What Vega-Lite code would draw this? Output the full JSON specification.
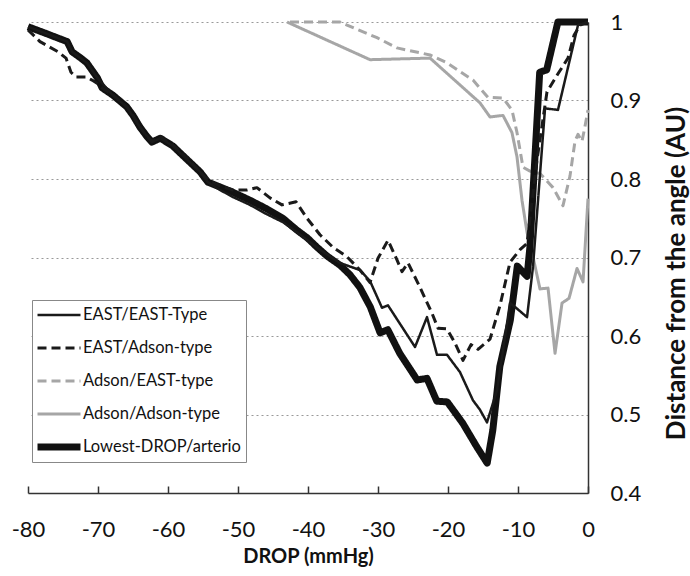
{
  "$schema": "https://vega.github.io/schema/vega-lite/v6.json",
  "width": 560,
  "height": 471,
  "autosize": {"type": "none"},
  "padding": {"left": 28, "top": 22, "right": 102, "bottom": 83},
  "background": "white",
  "config": {
    "view": {"stroke": null},
    "font": "Lato",
    "legend": {
      "orient": "none",
      "legendX": 4,
      "legendY": 278,
      "title": null,
      "strokeColor": "#888888",
      "fillColor": "white",
      "padding": 5,
      "symbolType": "stroke",
      "symbolSize": 1849,
      "symbolOffset": -3,
      "clipHeight": 20,
      "labelFont": "Lato",
      "labelFontSize": 16.5,
      "labelColor": "#111111",
      "labelOffset": -1,
      "labelLimit": 300,
      "rowPadding": 13
    }
  },
  "data": {
    "values": [
      {"s": "Adson/Adson-type", "x": -43.0, "y": 1.0},
      {"s": "Adson/Adson-type", "x": -31.14, "y": 0.952},
      {"s": "Adson/Adson-type", "x": -22.57, "y": 0.954},
      {"s": "Adson/Adson-type", "x": -15.43, "y": 0.897},
      {"s": "Adson/Adson-type", "x": -14.0, "y": 0.879},
      {"s": "Adson/Adson-type", "x": -12.14, "y": 0.881},
      {"s": "Adson/Adson-type", "x": -10.86, "y": 0.859},
      {"s": "Adson/Adson-type", "x": -10.14, "y": 0.828},
      {"s": "Adson/Adson-type", "x": -9.43, "y": 0.773},
      {"s": "Adson/Adson-type", "x": -8.71, "y": 0.732},
      {"s": "Adson/Adson-type", "x": -7.86, "y": 0.701},
      {"s": "Adson/Adson-type", "x": -6.86, "y": 0.66},
      {"s": "Adson/Adson-type", "x": -5.71, "y": 0.661},
      {"s": "Adson/Adson-type", "x": -4.71, "y": 0.578},
      {"s": "Adson/Adson-type", "x": -3.71, "y": 0.642},
      {"s": "Adson/Adson-type", "x": -2.71, "y": 0.648},
      {"s": "Adson/Adson-type", "x": -1.57, "y": 0.686},
      {"s": "Adson/Adson-type", "x": -0.71, "y": 0.669},
      {"s": "Adson/Adson-type", "x": 0.0, "y": 0.775},

      {"s": "Adson/EAST-type", "x": -42.57, "y": 1.0},
      {"s": "Adson/EAST-type", "x": -35.43, "y": 1.0},
      {"s": "Adson/EAST-type", "x": -34.43, "y": 0.996},
      {"s": "Adson/EAST-type", "x": -30.14, "y": 0.98},
      {"s": "Adson/EAST-type", "x": -27.29, "y": 0.967},
      {"s": "Adson/EAST-type", "x": -22.57, "y": 0.958},
      {"s": "Adson/EAST-type", "x": -20.14, "y": 0.948},
      {"s": "Adson/EAST-type", "x": -16.43, "y": 0.926},
      {"s": "Adson/EAST-type", "x": -14.29, "y": 0.904},
      {"s": "Adson/EAST-type", "x": -12.14, "y": 0.903},
      {"s": "Adson/EAST-type", "x": -10.86, "y": 0.888},
      {"s": "Adson/EAST-type", "x": -10.14, "y": 0.859},
      {"s": "Adson/EAST-type", "x": -9.29, "y": 0.815},
      {"s": "Adson/EAST-type", "x": -8.29, "y": 0.81},
      {"s": "Adson/EAST-type", "x": -6.86, "y": 0.807},
      {"s": "Adson/EAST-type", "x": -5.0, "y": 0.789},
      {"s": "Adson/EAST-type", "x": -3.57, "y": 0.766},
      {"s": "Adson/EAST-type", "x": -2.57, "y": 0.804},
      {"s": "Adson/EAST-type", "x": -1.86, "y": 0.848},
      {"s": "Adson/EAST-type", "x": -1.43, "y": 0.857},
      {"s": "Adson/EAST-type", "x": -0.86, "y": 0.848},
      {"s": "Adson/EAST-type", "x": -0.43, "y": 0.867},
      {"s": "Adson/EAST-type", "x": 0.0, "y": 0.888},

      {"s": "Lowest-DROP/arterio", "x": -80.0, "y": 0.994},
      {"s": "Lowest-DROP/arterio", "x": -77.6, "y": 0.986},
      {"s": "Lowest-DROP/arterio", "x": -74.4, "y": 0.975},
      {"s": "Lowest-DROP/arterio", "x": -73.7, "y": 0.962},
      {"s": "Lowest-DROP/arterio", "x": -72.6, "y": 0.955},
      {"s": "Lowest-DROP/arterio", "x": -71.6, "y": 0.948},
      {"s": "Lowest-DROP/arterio", "x": -70.1, "y": 0.929},
      {"s": "Lowest-DROP/arterio", "x": -69.4, "y": 0.916},
      {"s": "Lowest-DROP/arterio", "x": -67.9, "y": 0.907},
      {"s": "Lowest-DROP/arterio", "x": -65.9, "y": 0.892},
      {"s": "Lowest-DROP/arterio", "x": -65.0, "y": 0.881},
      {"s": "Lowest-DROP/arterio", "x": -64.0, "y": 0.866},
      {"s": "Lowest-DROP/arterio", "x": -63.0, "y": 0.854},
      {"s": "Lowest-DROP/arterio", "x": -62.3, "y": 0.847},
      {"s": "Lowest-DROP/arterio", "x": -61.1, "y": 0.852},
      {"s": "Lowest-DROP/arterio", "x": -59.3, "y": 0.842},
      {"s": "Lowest-DROP/arterio", "x": -57.3, "y": 0.825},
      {"s": "Lowest-DROP/arterio", "x": -55.4, "y": 0.809},
      {"s": "Lowest-DROP/arterio", "x": -54.3, "y": 0.796},
      {"s": "Lowest-DROP/arterio", "x": -52.6, "y": 0.79},
      {"s": "Lowest-DROP/arterio", "x": -50.7, "y": 0.783},
      {"s": "Lowest-DROP/arterio", "x": -48.3, "y": 0.773},
      {"s": "Lowest-DROP/arterio", "x": -45.9, "y": 0.762},
      {"s": "Lowest-DROP/arterio", "x": -43.6, "y": 0.75},
      {"s": "Lowest-DROP/arterio", "x": -41.6, "y": 0.735},
      {"s": "Lowest-DROP/arterio", "x": -40.1, "y": 0.725},
      {"s": "Lowest-DROP/arterio", "x": -38.7, "y": 0.713},
      {"s": "Lowest-DROP/arterio", "x": -37.3, "y": 0.702},
      {"s": "Lowest-DROP/arterio", "x": -35.4, "y": 0.69},
      {"s": "Lowest-DROP/arterio", "x": -34.0, "y": 0.678},
      {"s": "Lowest-DROP/arterio", "x": -32.6, "y": 0.662},
      {"s": "Lowest-DROP/arterio", "x": -31.1, "y": 0.637},
      {"s": "Lowest-DROP/arterio", "x": -29.7, "y": 0.604},
      {"s": "Lowest-DROP/arterio", "x": -28.6, "y": 0.608},
      {"s": "Lowest-DROP/arterio", "x": -26.9, "y": 0.578},
      {"s": "Lowest-DROP/arterio", "x": -24.4, "y": 0.544},
      {"s": "Lowest-DROP/arterio", "x": -23.0, "y": 0.546},
      {"s": "Lowest-DROP/arterio", "x": -21.6, "y": 0.517},
      {"s": "Lowest-DROP/arterio", "x": -20.1, "y": 0.516},
      {"s": "Lowest-DROP/arterio", "x": -17.9, "y": 0.489},
      {"s": "Lowest-DROP/arterio", "x": -15.9, "y": 0.459},
      {"s": "Lowest-DROP/arterio", "x": -14.4, "y": 0.438},
      {"s": "Lowest-DROP/arterio", "x": -13.6, "y": 0.48},
      {"s": "Lowest-DROP/arterio", "x": -12.6, "y": 0.561},
      {"s": "Lowest-DROP/arterio", "x": -11.1, "y": 0.62},
      {"s": "Lowest-DROP/arterio", "x": -10.1, "y": 0.689},
      {"s": "Lowest-DROP/arterio", "x": -8.7, "y": 0.676},
      {"s": "Lowest-DROP/arterio", "x": -8.3, "y": 0.713},
      {"s": "Lowest-DROP/arterio", "x": -6.9, "y": 0.936},
      {"s": "Lowest-DROP/arterio", "x": -5.9, "y": 0.939},
      {"s": "Lowest-DROP/arterio", "x": -4.3, "y": 1.0},
      {"s": "Lowest-DROP/arterio", "x": 0.0, "y": 1.0},

      {"s": "EAST/EAST-Type", "x": -80.0, "y": 0.994},
      {"s": "EAST/EAST-Type", "x": -77.6, "y": 0.986},
      {"s": "EAST/EAST-Type", "x": -74.4, "y": 0.975},
      {"s": "EAST/EAST-Type", "x": -73.7, "y": 0.962},
      {"s": "EAST/EAST-Type", "x": -71.6, "y": 0.948},
      {"s": "EAST/EAST-Type", "x": -70.1, "y": 0.929},
      {"s": "EAST/EAST-Type", "x": -67.9, "y": 0.907},
      {"s": "EAST/EAST-Type", "x": -65.9, "y": 0.892},
      {"s": "EAST/EAST-Type", "x": -64.0, "y": 0.866},
      {"s": "EAST/EAST-Type", "x": -62.3, "y": 0.847},
      {"s": "EAST/EAST-Type", "x": -61.1, "y": 0.852},
      {"s": "EAST/EAST-Type", "x": -59.3, "y": 0.842},
      {"s": "EAST/EAST-Type", "x": -57.3, "y": 0.825},
      {"s": "EAST/EAST-Type", "x": -55.4, "y": 0.809},
      {"s": "EAST/EAST-Type", "x": -54.3, "y": 0.796},
      {"s": "EAST/EAST-Type", "x": -52.57, "y": 0.786},
      {"s": "EAST/EAST-Type", "x": -50.71, "y": 0.777},
      {"s": "EAST/EAST-Type", "x": -48.29, "y": 0.767},
      {"s": "EAST/EAST-Type", "x": -45.86, "y": 0.755},
      {"s": "EAST/EAST-Type", "x": -43.57, "y": 0.745},
      {"s": "EAST/EAST-Type", "x": -41.57, "y": 0.732},
      {"s": "EAST/EAST-Type", "x": -38.29, "y": 0.71},
      {"s": "EAST/EAST-Type", "x": -35.43, "y": 0.693},
      {"s": "EAST/EAST-Type", "x": -32.57, "y": 0.684},
      {"s": "EAST/EAST-Type", "x": -31.14, "y": 0.67},
      {"s": "EAST/EAST-Type", "x": -29.43, "y": 0.636},
      {"s": "EAST/EAST-Type", "x": -28.57, "y": 0.639},
      {"s": "EAST/EAST-Type", "x": -24.71, "y": 0.586},
      {"s": "EAST/EAST-Type", "x": -23.0, "y": 0.624},
      {"s": "EAST/EAST-Type", "x": -21.57, "y": 0.576},
      {"s": "EAST/EAST-Type", "x": -20.14, "y": 0.576},
      {"s": "EAST/EAST-Type", "x": -18.29, "y": 0.554},
      {"s": "EAST/EAST-Type", "x": -16.43, "y": 0.518},
      {"s": "EAST/EAST-Type", "x": -15.43, "y": 0.506},
      {"s": "EAST/EAST-Type", "x": -14.43, "y": 0.49},
      {"s": "EAST/EAST-Type", "x": -13.0, "y": 0.531},
      {"s": "EAST/EAST-Type", "x": -12.14, "y": 0.582},
      {"s": "EAST/EAST-Type", "x": -11.14, "y": 0.642},
      {"s": "EAST/EAST-Type", "x": -10.43, "y": 0.637},
      {"s": "EAST/EAST-Type", "x": -8.71, "y": 0.624},
      {"s": "EAST/EAST-Type", "x": -7.86, "y": 0.688},
      {"s": "EAST/EAST-Type", "x": -6.14, "y": 0.89},
      {"s": "EAST/EAST-Type", "x": -4.29, "y": 0.888},
      {"s": "EAST/EAST-Type", "x": -1.43, "y": 0.996},
      {"s": "EAST/EAST-Type", "x": 0.0, "y": 1.0},

      {"s": "EAST/Adson-type", "x": -80.0, "y": 0.99},
      {"s": "EAST/Adson-type", "x": -78.29, "y": 0.975},
      {"s": "EAST/Adson-type", "x": -75.71, "y": 0.962},
      {"s": "EAST/Adson-type", "x": -74.57, "y": 0.954},
      {"s": "EAST/Adson-type", "x": -73.86, "y": 0.936},
      {"s": "EAST/Adson-type", "x": -73.14, "y": 0.93},
      {"s": "EAST/Adson-type", "x": -71.71, "y": 0.93},
      {"s": "EAST/Adson-type", "x": -70.86, "y": 0.926},
      {"s": "EAST/Adson-type", "x": -70.14, "y": 0.922},
      {"s": "EAST/Adson-type", "x": -69.43, "y": 0.916},
      {"s": "EAST/Adson-type", "x": -67.86, "y": 0.907},
      {"s": "EAST/Adson-type", "x": -65.86, "y": 0.892},
      {"s": "EAST/Adson-type", "x": -65.0, "y": 0.881},
      {"s": "EAST/Adson-type", "x": -64.0, "y": 0.866},
      {"s": "EAST/Adson-type", "x": -63.0, "y": 0.854},
      {"s": "EAST/Adson-type", "x": -62.29, "y": 0.848},
      {"s": "EAST/Adson-type", "x": -61.14, "y": 0.854},
      {"s": "EAST/Adson-type", "x": -59.29, "y": 0.843},
      {"s": "EAST/Adson-type", "x": -57.29, "y": 0.827},
      {"s": "EAST/Adson-type", "x": -55.43, "y": 0.809},
      {"s": "EAST/Adson-type", "x": -54.29, "y": 0.799},
      {"s": "EAST/Adson-type", "x": -52.57, "y": 0.791},
      {"s": "EAST/Adson-type", "x": -50.71, "y": 0.786},
      {"s": "EAST/Adson-type", "x": -48.71, "y": 0.786},
      {"s": "EAST/Adson-type", "x": -47.29, "y": 0.789},
      {"s": "EAST/Adson-type", "x": -45.43, "y": 0.776},
      {"s": "EAST/Adson-type", "x": -43.71, "y": 0.767},
      {"s": "EAST/Adson-type", "x": -41.71, "y": 0.771},
      {"s": "EAST/Adson-type", "x": -40.14, "y": 0.75},
      {"s": "EAST/Adson-type", "x": -38.29, "y": 0.729},
      {"s": "EAST/Adson-type", "x": -36.43, "y": 0.713},
      {"s": "EAST/Adson-type", "x": -34.43, "y": 0.701},
      {"s": "EAST/Adson-type", "x": -32.57, "y": 0.684},
      {"s": "EAST/Adson-type", "x": -31.14, "y": 0.668},
      {"s": "EAST/Adson-type", "x": -30.0, "y": 0.699},
      {"s": "EAST/Adson-type", "x": -28.57, "y": 0.722},
      {"s": "EAST/Adson-type", "x": -27.29, "y": 0.697},
      {"s": "EAST/Adson-type", "x": -26.57, "y": 0.682},
      {"s": "EAST/Adson-type", "x": -25.71, "y": 0.693},
      {"s": "EAST/Adson-type", "x": -24.0, "y": 0.662},
      {"s": "EAST/Adson-type", "x": -22.29, "y": 0.629},
      {"s": "EAST/Adson-type", "x": -21.43, "y": 0.61},
      {"s": "EAST/Adson-type", "x": -20.14, "y": 0.609},
      {"s": "EAST/Adson-type", "x": -19.0, "y": 0.591},
      {"s": "EAST/Adson-type", "x": -17.86, "y": 0.569},
      {"s": "EAST/Adson-type", "x": -16.71, "y": 0.589},
      {"s": "EAST/Adson-type", "x": -15.71, "y": 0.583},
      {"s": "EAST/Adson-type", "x": -14.0, "y": 0.596},
      {"s": "EAST/Adson-type", "x": -12.57, "y": 0.639},
      {"s": "EAST/Adson-type", "x": -11.14, "y": 0.694},
      {"s": "EAST/Adson-type", "x": -9.71, "y": 0.71},
      {"s": "EAST/Adson-type", "x": -8.71, "y": 0.718},
      {"s": "EAST/Adson-type", "x": -7.29, "y": 0.824},
      {"s": "EAST/Adson-type", "x": -5.86, "y": 0.911},
      {"s": "EAST/Adson-type", "x": -4.29, "y": 0.934},
      {"s": "EAST/Adson-type", "x": -2.86, "y": 0.954},
      {"s": "EAST/Adson-type", "x": -2.0, "y": 0.983},
      {"s": "EAST/Adson-type", "x": -1.14, "y": 0.996},
      {"s": "EAST/Adson-type", "x": 0.0, "y": 1.0}
    ]
  },
  "mark": {"type": "line", "strokeJoin": "round", "strokeCap": "butt"},
  "encoding": {
    "x": {
      "field": "x",
      "type": "quantitative",
      "scale": {"domain": [-80, 0], "nice": false},
      "axis": {
        "title": "DROP (mmHg)",
        "values": [-80, -70, -60, -50, -40, -30, -20, -10, 0],
        "labelExpr": "'' + datum.value",
        "labelFlush": false,
        "grid": false,
        "domainColor": "#333333",
        "domainWidth": 1.5,
        "tickColor": "#333333",
        "tickWidth": 1.5,
        "tickSize": -7,
        "labelFontSize": 22,
        "labelColor": "#111111",
        "labelPadding": 33,
        "titleFontSize": 20,
        "titleFontWeight": "bold",
        "titleColor": "#111111",
        "titlePadding": 6
      }
    },
    "y": {
      "field": "y",
      "type": "quantitative",
      "scale": {"domain": [0.4, 1], "nice": false, "zero": false},
      "axis": {
        "orient": "right",
        "title": "Distance from the angle (AU)",
        "values": [0.4, 0.5, 0.6, 0.7, 0.8, 0.9, 1],
        "format": ".1~f",
        "ticks": false,
        "labelFlush": false,
        "domainColor": "#333333",
        "domainWidth": 1.5,
        "grid": true,
        "gridColor": "#999999",
        "gridDash": [2, 3],
        "gridWidth": 1,
        "labelFontSize": 22,
        "labelColor": "#111111",
        "labelPadding": 22,
        "titleFontSize": 26,
        "titleFontWeight": "bold",
        "titleColor": "#111111",
        "titleAngle": 270,
        "titleBaseline": "top",
        "titleY": 251,
        "titlePadding": 23
      }
    },
    "color": {
      "field": "s",
      "type": "nominal",
      "scale": {
        "domain": ["EAST/EAST-Type", "EAST/Adson-type", "Adson/EAST-type", "Adson/Adson-type", "Lowest-DROP/arterio"],
        "range": ["#1a1a1a", "#1a1a1a", "#a6a6a6", "#a6a6a6", "#111111"]
      }
    },
    "strokeDash": {
      "field": "s",
      "type": "nominal",
      "scale": {
        "domain": ["EAST/EAST-Type", "EAST/Adson-type", "Adson/EAST-type", "Adson/Adson-type", "Lowest-DROP/arterio"],
        "range": [[1, 0], [9, 5], [9, 5], [1, 0], [1, 0]]
      }
    },
    "strokeWidth": {
      "field": "s",
      "type": "nominal",
      "scale": {
        "type": "ordinal",
        "domain": ["EAST/EAST-Type", "EAST/Adson-type", "Adson/EAST-type", "Adson/Adson-type", "Lowest-DROP/arterio"],
        "range": [2.5, 3, 3, 3, 7]
      }
    }
  }
}
